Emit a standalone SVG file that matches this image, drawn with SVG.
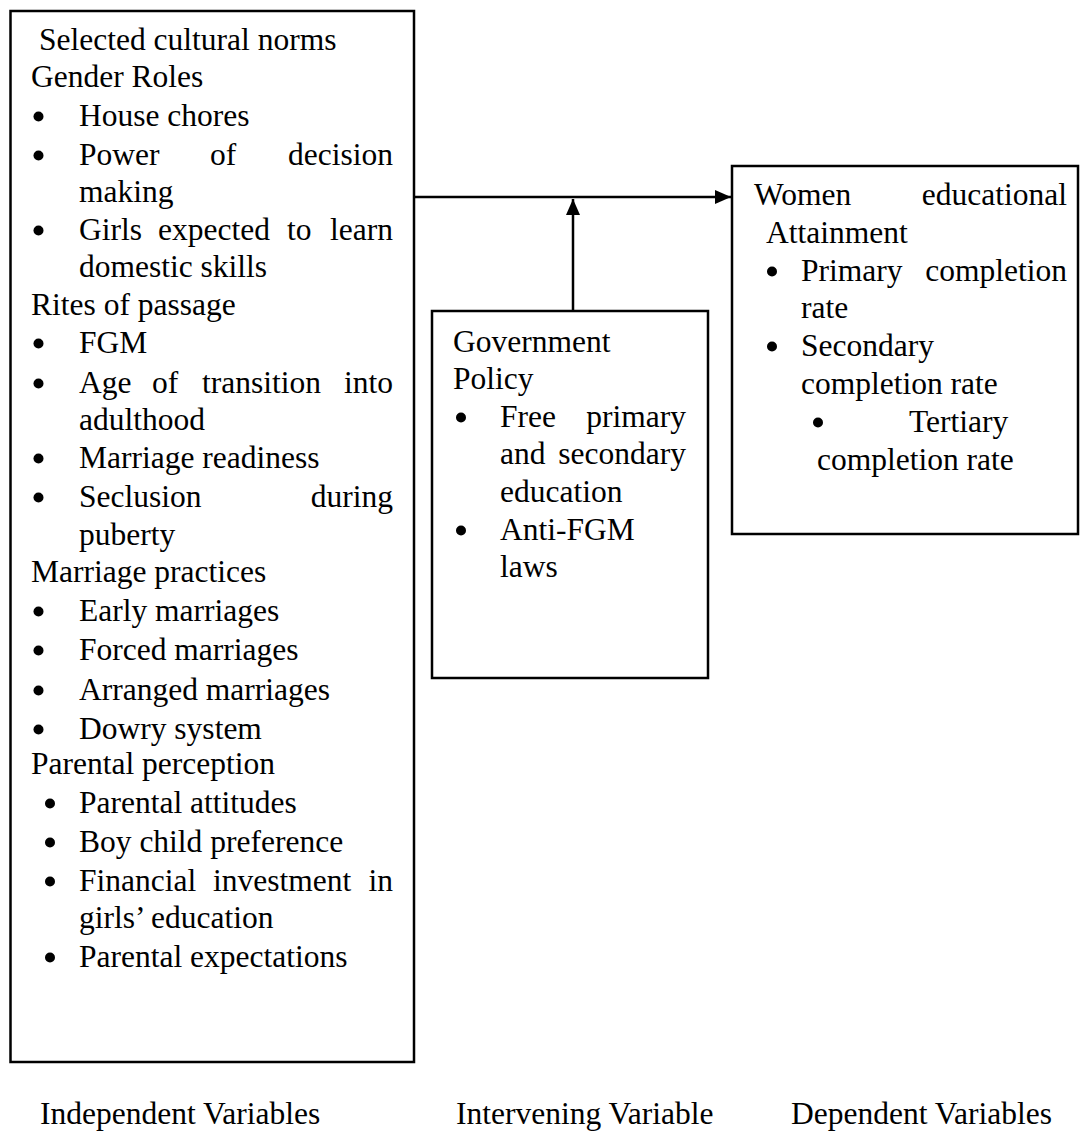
<svg xmlns="http://www.w3.org/2000/svg" width="1080" height="1131" viewBox="0 0 1080 1131">
<style>
text{font-family:"Liberation Serif","Times New Roman",serif;font-size:31.5px;fill:#000}
.box{fill:#fff;stroke:#000;stroke-width:2.5}
.ln{fill:none;stroke:#000;stroke-width:2.5}
.e{text-anchor:end}
circle{fill:#000}
</style>
<defs>
<marker id="ah" markerUnits="userSpaceOnUse" markerWidth="16" markerHeight="14" refX="16" refY="7" orient="auto">
<path d="M0,0 L16,7 L0,14 z" fill="#000"/>
</marker>
</defs>
<rect width="1080" height="1131" fill="#fff"/>
<g id="connectors">
<line class="ln" x1="414" y1="197" x2="731" y2="197" marker-end="url(#ah)"/>
<line class="ln" x1="573" y1="311" x2="573" y2="199" marker-end="url(#ah)"/>
</g>
<g id="independent">
<rect class="box" x="10.5" y="11" width="403.5" height="1051"/>
<text x="39" y="50">Selected cultural norms</text>
<text x="31" y="87">Gender Roles</text>
<circle cx="38.5" cy="116.5" r="5"/><text x="79" y="126">House chores</text>
<circle cx="38.5" cy="155.5" r="5"/><text x="79" y="165">Power</text><text x="210" y="165">of</text><text class="e" x="393" y="165">decision</text>
<text x="79" y="202">making</text>
<circle cx="38.5" cy="230.5" r="5"/><text x="79" y="240">Girls</text><text x="158" y="240">expected</text><text x="287" y="240">to</text><text class="e" x="393" y="240">learn</text>
<text x="79" y="277">domestic skills</text>
<text x="31" y="315">Rites of passage</text>
<circle cx="38.5" cy="343.5" r="5"/><text x="79" y="353">FGM</text>
<circle cx="38.5" cy="383.5" r="5"/><text x="79" y="393">Age</text><text x="152" y="393">of</text><text x="202" y="393">transition</text><text class="e" x="393" y="393">into</text>
<text x="79" y="430">adulthood</text>
<circle cx="38.5" cy="458.5" r="5"/><text x="79" y="468">Marriage readiness</text>
<circle cx="38.5" cy="497.5" r="5"/><text x="79" y="507">Seclusion</text><text class="e" x="393" y="507">during</text>
<text x="79" y="545">puberty</text>
<text x="31" y="582">Marriage practices</text>
<circle cx="38.5" cy="611.5" r="5"/><text x="79" y="621">Early marriages</text>
<circle cx="38.5" cy="650.5" r="5"/><text x="79" y="660">Forced marriages</text>
<circle cx="38.5" cy="690.5" r="5"/><text x="79" y="700">Arranged marriages</text>
<circle cx="38.5" cy="729.5" r="5"/><text x="79" y="739">Dowry system</text>
<text x="31" y="774">Parental perception</text>
<circle cx="50" cy="803.5" r="5"/><text x="79" y="813">Parental attitudes</text>
<circle cx="50" cy="842.5" r="5"/><text x="79" y="852">Boy child preference</text>
<circle cx="50" cy="881.5" r="5"/><text x="79" y="891">Financial</text><text x="213" y="891">investment</text><text class="e" x="393" y="891">in</text>
<text x="79" y="928">girls’ education</text>
<circle cx="50" cy="957.5" r="5"/><text x="79" y="967">Parental expectations</text>
</g>
<g id="intervening">
<rect class="box" x="432" y="311" width="276" height="367"/>
<text x="453" y="352">Government</text>
<text x="453" y="389">Policy</text>
<circle cx="461" cy="417.5" r="5"/><text x="500" y="427">Free</text><text class="e" x="686" y="427">primary</text>
<text x="500" y="464">and</text><text class="e" x="686" y="464">secondary</text>
<text x="500" y="502">education</text>
<circle cx="461" cy="530.5" r="5"/><text x="500" y="540">Anti-FGM</text>
<text x="500" y="577">laws</text>
</g>
<g id="dependent">
<rect class="box" x="732" y="166" width="346" height="368"/>
<text x="754" y="205">Women</text><text class="e" x="1067" y="205">educational</text>
<text x="766" y="243">Attainment</text>
<circle cx="772" cy="271.5" r="5"/><text x="801" y="281">Primary</text><text class="e" x="1067" y="281">completion</text>
<text x="801" y="318">rate</text>
<circle cx="772" cy="346.5" r="5"/><text x="801" y="356">Secondary</text>
<text x="801" y="394">completion rate</text>
<circle cx="818" cy="422.5" r="5"/><text x="909" y="432">Tertiary</text>
<text x="817" y="470">completion rate</text>
</g>
<g id="labels">
<text x="40" y="1124">Independent Variables</text>
<text x="456" y="1124">Intervening Variable</text>
<text x="791" y="1124">Dependent Variables</text>
</g>
</svg>
